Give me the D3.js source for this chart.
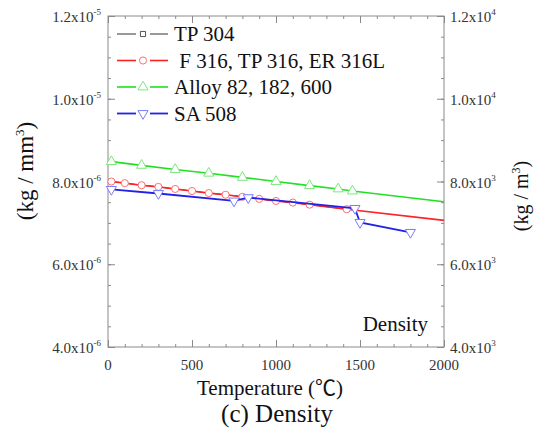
<!DOCTYPE html>
<html>
<head>
<meta charset="utf-8">
<script src="https://cdn.jsdelivr.net/npm/d3@7"></script>
<style>
  body { margin: 0; background: #fff; }
  svg text { fill: #111; }
</style>
</head>
<body>
<svg id="chart" width="538" height="434"></svg>
<script>
// values (density in kg/mm^3, temperature in C)
var tp304T = [20, 100, 200, 300, 400, 500, 600, 700, 800, 900, 1000, 1100, 1200, 1421];
var tp304Rho = [8.00e-6, 7.96e-6, 7.91e-6, 7.87e-6, 7.82e-6, 7.77e-6, 7.72e-6, 7.68e-6, 7.63e-6, 7.58e-6, 7.53e-6, 7.49e-6, 7.44e-6, 7.33e-6];

var f316T = [20, 100, 200, 300, 400, 500, 600, 700, 800, 900, 1000, 1100, 1200, 1421];
var f316Rho = [8.00e-6, 7.96e-6, 7.91e-6, 7.87e-6, 7.82e-6, 7.77e-6, 7.72e-6, 7.68e-6, 7.63e-6, 7.58e-6, 7.53e-6, 7.49e-6, 7.44e-6, 7.33e-6];
var f316End = [2000, 7.06e-6];

var alloyT = [20, 200, 400, 600, 800, 1000, 1200, 1370, 1455];
var alloyRho = [8.48e-6, 8.39e-6, 8.29e-6, 8.20e-6, 8.10e-6, 8.00e-6, 7.90e-6, 7.82e-6, 7.77e-6];
var alloyEnd = [2000, 7.51e-6];

var sa508T = [20, 300, 750, 835, 1470, 1500, 1800];
var sa508Rho = [7.81e-6, 7.71e-6, 7.53e-6, 7.61e-6, 7.35e-6, 7.01e-6, 6.77e-6];

var legendNames = ["TP 304", " F 316, TP 316, ER 316L", "Alloy 82, 182, 600", "SA 508"];
var xTicks = [0, 500, 1000, 1500, 2000];
var leftTicks = [4e-6, 6e-6, 8e-6, 1e-5, 1.2e-5];
var leftMant = ["4.0", "6.0", "8.0", "1.0", "1.2"];
var leftExp = ["-6", "-6", "-6", "-5", "-5"];
var rightMant = ["4.0", "6.0", "8.0", "1.0", "1.2"];
var rightExp = ["3", "3", "3", "4", "4"];

var svg = d3.select("#chart");
var grey = "#8a8a8a";
var serif = "'Liberation Serif', 'Times New Roman', 'Noto Sans CJK KR', serif";

var x = d3.scaleLinear().domain([0, 2000]).range([108, 444]);
var y = d3.scaleLinear().domain([4e-6, 1.2e-5]).range([347, 16]);

function styleAxis(g) {
  g.select(".domain").remove();
  g.selectAll("line").attr("stroke", grey);
  g.selectAll("text").remove();
}

// ticks (minor + major) on all four sides
var minorX = d3.range(0, 2001, 100), minorY = d3.range(0, 17).map(function(i) { return 4e-6 + i * 0.5e-6; });
svg.append("g").attr("transform", "translate(0,347)").call(d3.axisBottom(x).tickValues(minorX).tickSize(-3)).call(styleAxis);
svg.append("g").attr("transform", "translate(0,347)").call(d3.axisBottom(x).tickValues(xTicks).tickSize(-7)).call(styleAxis);
svg.append("g").attr("transform", "translate(0,16)").call(d3.axisTop(x).tickValues(minorX).tickSize(-3)).call(styleAxis);
svg.append("g").attr("transform", "translate(0,16)").call(d3.axisTop(x).tickValues(xTicks).tickSize(-7)).call(styleAxis);
svg.append("g").attr("transform", "translate(108,0)").call(d3.axisLeft(y).tickValues(minorY).tickSize(-3)).call(styleAxis);
svg.append("g").attr("transform", "translate(108,0)").call(d3.axisLeft(y).tickValues(leftTicks).tickSize(-7)).call(styleAxis);
svg.append("g").attr("transform", "translate(444,0)").call(d3.axisRight(y).tickValues(minorY).tickSize(-3)).call(styleAxis);
svg.append("g").attr("transform", "translate(444,0)").call(d3.axisRight(y).tickValues(leftTicks).tickSize(-7)).call(styleAxis);

svg.append("rect").attr("x", 108).attr("y", 16).attr("width", 336).attr("height", 331)
  .attr("fill", "none").attr("stroke", grey).attr("stroke-width", 1);

// tick labels
svg.selectAll(".xl").data(xTicks).enter().append("text")
  .attr("x", function(d) { return x(d); }).attr("y", 370)
  .attr("text-anchor", "middle").style("font-size", "15px").style("fill", "#333").text(function(d) { return d; });

var ll = svg.selectAll(".ll").data(leftTicks).enter().append("text")
  .attr("x", 101).attr("y", function(d) { return y(d) + 6; })
  .attr("text-anchor", "end").style("font-size", "15px").style("fill", "#333");
ll.append("tspan").text(function(d, i) { return leftMant[i] + "x10"; });
ll.append("tspan").attr("dy", -7).style("font-size", "9px").text(function(d, i) { return leftExp[i]; });

var rl = svg.selectAll(".rl").data(leftTicks).enter().append("text")
  .attr("x", 450).attr("y", function(d) { return y(d) + 6; })
  .style("font-size", "15px").style("fill", "#333");
rl.append("tspan").text(function(d, i) { return rightMant[i] + "x10"; });
rl.append("tspan").attr("dy", -7).style("font-size", "9px").text(function(d, i) { return rightExp[i]; });

// axis titles
var lt = svg.append("text").attr("transform", "translate(33,171) rotate(-90)")
  .attr("text-anchor", "middle").style("font-size", "23px");
lt.append("tspan").text("(kg / mm");
lt.append("tspan").attr("dy", -9).style("font-size", "13px").text("3");
lt.append("tspan").attr("dy", 9).text(")");

var rt = svg.append("text").attr("transform", "translate(528,196) rotate(-90)")
  .attr("text-anchor", "middle").style("font-size", "20px");
rt.append("tspan").text("(kg / m");
rt.append("tspan").attr("dy", -8).style("font-size", "12px").text("3");
rt.append("tspan").attr("dy", 8).text(")");

svg.append("text").attr("x", 270).attr("y", 395).attr("text-anchor", "middle")
  .style("font-size", "21px")
  .text("Temperature (\u2103)");

svg.append("text").attr("x", 277).attr("y", 422).attr("text-anchor", "middle")
  .style("font-size", "25px").text("(c) Density");

svg.append("text").attr("x", 428).attr("y", 331).attr("text-anchor", "end")
  .style("font-size", "21px").text("Density");

// series
var series = [
  { t: tp304T, v: tp304Rho, end: null, line: "#333", mark: "#555", shape: d3.symbolSquare, size: 16, lw: 1 },
  { t: f316T, v: f316Rho, end: f316End, line: "#ff2222", mark: "#ff7070", shape: d3.symbolCircle, size: 40, lw: 1.6 },
  { t: alloyT, v: alloyRho, end: alloyEnd, line: "#22e022", mark: "#7fe67f", shape: d3.symbolTriangle, size: 44, lw: 1.6 },
  { t: sa508T, v: sa508Rho, end: null, line: "#2222e6", mark: "#7a7aff", shape: d3.symbolTriangle, size: 44, lw: 1.8, down: true }
];

var line = d3.line().x(function(d) { return x(d[0]); }).y(function(d) { return y(d[1]); });

series.forEach(function(s) {
  var pts = s.t.map(function(t, i) { return [t, s.v[i]]; });
  var lpts = s.end ? pts.concat([s.end]) : pts;
  svg.append("path").datum(lpts).attr("d", line)
    .attr("fill", "none").attr("stroke", s.line).attr("stroke-width", s.lw);
  svg.selectAll(null).data(pts).enter().append("path")
    .attr("d", d3.symbol().type(s.shape).size(s.size))
    .attr("transform", function(d) { return "translate(" + x(d[0]) + "," + y(d[1]) + ")" + (s.down ? " rotate(180)" : ""); })
    .attr("fill", "#fff").attr("stroke", s.mark).attr("stroke-width", 1);
});

// legend
var legY = [34, 60.5, 87, 113.5];
series.forEach(function(s, i) {
  var g = svg.append("g").attr("transform", "translate(0," + legY[i] + ")");
  g.append("line").attr("x1", 117).attr("x2", 136).attr("stroke", s.line).attr("stroke-width", s.lw);
  g.append("line").attr("x1", 150).attr("x2", 168).attr("stroke", s.line).attr("stroke-width", s.lw);
  g.append("path").attr("d", d3.symbol().type(s.shape).size(i === 0 ? 26 : s.size))
    .attr("transform", "translate(143,0)" + (s.down ? " rotate(180)" : ""))
    .attr("fill", "#fff").attr("stroke", s.mark);
  g.append("text").attr("x", 174).attr("y", 7).style("font-size", "21px")
    .style("white-space", "pre").text(legendNames[i]);
});

// same serif face on every label
svg.selectAll("text").style("font-family", serif);
</script>
</body>
</html>
